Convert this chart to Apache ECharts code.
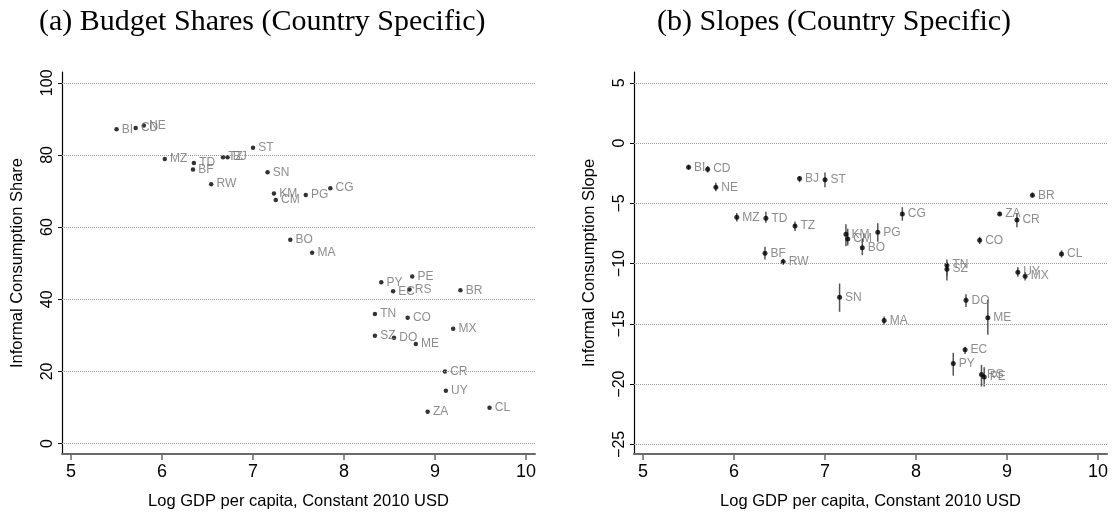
<!DOCTYPE html>
<html><head><meta charset="utf-8">
<script src="https://cdn.jsdelivr.net/npm/echarts@6/dist/echarts.min.js"></script>
<style>html,body{margin:0;padding:0;background:#fff}#c{width:1114px;height:516px}</style>
</head><body><div id="c"></div>
<script>
const countries = ['BI','CD','NE','MZ','TD','BF','TZ','BJ','RW','ST','SN','KM','CM','PG','CG','BO','MA','PY','EC','RS','PE','TN','SZ','CO','DO','ME','MX','BR','UY','CR','ZA','CL'];
const gdp     = [5.50,5.71,5.80,6.03,6.35,6.34,6.67,6.72,6.54,7.00,7.16,7.23,7.25,7.58,7.85,7.41,7.65,8.41,8.54,8.72,8.75,8.34,8.34,8.70,8.55,8.79,9.20,9.28,9.12,9.11,8.92,9.60];
const share   = [87.1,87.5,88.2,78.9,77.8,76.0,79.4,79.4,71.9,82.0,75.2,69.3,67.5,68.9,70.8,56.5,52.9,44.7,42.2,42.7,46.3,35.9,29.9,34.9,29.3,27.6,31.8,42.5,14.6,20.0,8.8,9.9];
const slope   = [-2.0,-2.16,-3.66,-6.16,-6.24,-9.15,-6.88,-2.94,-9.85,-3.05,-12.8,-7.57,-7.96,-7.4,-5.88,-8.69,-14.73,-18.3,-17.15,-19.2,-19.4,-10.13,-10.46,-8.07,-13.04,-14.5,-11.04,-4.33,-10.71,-6.38,-5.88,-9.21];
const slopeLo = [-2.2,-2.45,-4.0,-6.5,-6.6,-9.65,-7.3,-3.25,-10.1,-3.66,-14.0,-8.55,-8.5,-8.19,-6.44,-9.3,-15.1,-19.3,-17.5,-20.2,-20.2,-11.4,-11.0,-8.38,-13.6,-15.9,-11.4,-4.5,-11.1,-6.99,-6.0,-9.5];
const slopeHi = [-1.8,-1.9,-3.3,-5.8,-5.7,-8.6,-6.5,-2.75,-9.6,-2.45,-11.65,-6.74,-7.1,-6.66,-5.32,-7.9,-14.4,-17.4,-16.9,-18.4,-18.6,-9.65,-9.9,-7.77,-12.54,-13.0,-10.7,-4.1,-10.3,-5.82,-5.7,-8.9];
const xTicks = [5,6,7,8,9,10];
const shareTicks = [0,20,40,60,80,100];
const slopeTicks = [-25,-20,-15,-10,-5,0,5];

const sans = "'Liberation Sans',Arial,sans-serif";

function xAxisCfg(gi){
  return {
    type:'value', gridIndex:gi, min:4.9, max:10.1,
    name:'Log GDP per capita, Constant 2010 USD', nameLocation:'middle', nameGap:39,
    nameTextStyle:{fontFamily:sans, fontSize:16.5, color:'#000'},
    axisLine:{show:true, onZero:false, lineStyle:{color:'#6a6a6a', width:2}},
    axisTick:{show:true, length:6, customValues:xTicks, lineStyle:{color:'#6a6a6a', width:1.5}},
    axisLabel:{customValues:xTicks, fontFamily:sans, fontSize:18, color:'#000', margin:9},
    splitLine:{show:false}
  };
}
function yAxisCfg(gi, mn, mx, ticks, name){
  return {
    type:'value', gridIndex:gi, min:mn, max:mx,
    name:name, nameLocation:'middle', nameGap:36,
    nameTextStyle:{fontFamily:sans, fontSize:16.5, color:'#000'},
    axisLine:{show:true, onZero:false, lineStyle:{color:'#000', width:1.2}},
    axisTick:{show:true, length:4, customValues:ticks, lineStyle:{color:'#000', width:1}},
    axisLabel:{customValues:ticks, rotate:90, fontFamily:sans, fontSize:16, color:'#000', margin:6,
      formatter:v=>String(v).replace('-','\u2212')},
    splitLine:{show:false}
  };
}
function gridLines(xi, yi, ticks){
  return {
    type:'line', xAxisIndex:xi, yAxisIndex:yi, data:[], z:1, silent:true,
    markLine:{silent:true, symbol:['none','none'], label:{show:false},
      lineStyle:{type:'dotted', color:'#9a9a9a', width:1},
      data:ticks.map(v=>({yAxis:v}))}
  };
}
const ptLabel = {show:true, position:'right', distance:3, formatter:p=>p.data[2],
  fontFamily:sans, fontSize:12, color:'#707070'};

const chart = echarts.init(document.getElementById('c'));
chart.setOption({
  animation:false,
  backgroundColor:'#fff',
  title:[
    {text:'(a) Budget Shares (Country Specific)', left:34, top:2,
      textStyle:{fontFamily:"'Liberation Serif',serif", fontSize:30, fontWeight:'normal', color:'#000'}},
    {text:'(b) Slopes (Country Specific)', left:652, top:2,
      textStyle:{fontFamily:"'Liberation Serif',serif", fontSize:30, fontWeight:'normal', color:'#000'}}
  ],
  grid:[
    {left:62, right:579, top:72, bottom:62},
    {left:634, right:7, top:72, bottom:62}
  ],
  xAxis:[xAxisCfg(0), xAxisCfg(1)],
  yAxis:[
    yAxisCfg(0, -2.9, 103, shareTicks, 'Informal Consumption Share'),
    yAxisCfg(1, -25.8, 5.9, slopeTicks, 'Informal Consumption Slope')
  ],
  series:[
    gridLines(0,0,shareTicks),
    gridLines(1,1,slopeTicks),
    {type:'scatter', xAxisIndex:0, yAxisIndex:0, z:3, symbol:'circle', symbolSize:4.5,
      itemStyle:{color:'#000'}, label:ptLabel,
      data:countries.map((c,i)=>[gdp[i], share[i], c])},
    {type:'custom', xAxisIndex:1, yAxisIndex:1, z:2,
      renderItem:function(params, api){
        const p1 = api.coord([api.value(0), api.value(1)]);
        const p2 = api.coord([api.value(0), api.value(2)]);
        return {type:'line', shape:{x1:p1[0], y1:p1[1], x2:p2[0], y2:p2[1]},
          style:{stroke:'#555', lineWidth:1.5}};
      },
      encode:{x:0, y:[1,2]},
      data:countries.map((c,i)=>[gdp[i], slopeLo[i], slopeHi[i]])},
    {type:'scatter', xAxisIndex:1, yAxisIndex:1, z:3, symbol:'circle', symbolSize:5,
      itemStyle:{color:'#000'}, label:ptLabel,
      data:countries.map((c,i)=>[gdp[i], slope[i], c])}
  ]
});
</script></body></html>
